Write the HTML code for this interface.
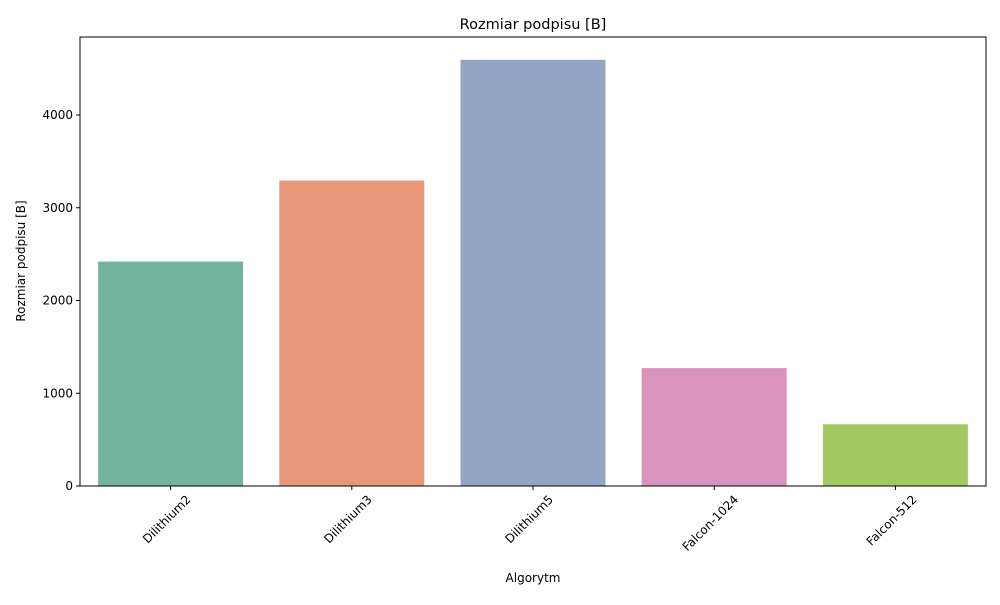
<!DOCTYPE html>
<html><head><meta charset="utf-8"><style>
body{margin:0;background:#fff;font-family:"Liberation Sans","DejaVu Sans",sans-serif;}
svg text{font-family:"DejaVu Sans","Liberation Sans",sans-serif;}
</style></head><body>
<svg id="chart" width="1000" height="600" viewBox="0 0 1000 600" xmlns="http://www.w3.org/2000/svg">
<text x="533" y="29" font-size="14.5" text-anchor="middle">Rozmiar podpisu [B]</text>
<text transform="translate(25,261) rotate(-90)" font-size="12" text-anchor="middle">Rozmiar podpisu [B]</text>
<text x="533" y="582" font-size="12" text-anchor="middle">Algorytm</text>
<g id="bars"></g><g id="axes"></g>
<rect x="80" y="37" width="906" height="449" fill="none" stroke="#000" stroke-width="1"/>
</svg>
<script>
const categories=["Dilithium2","Dilithium3","Dilithium5","Falcon-1024","Falcon-512"];
const values=[2420,3293,4595,1271,666];
const colors=["#73b49f","#e8977a","#94a4c3","#da93bd","#a2c862"];
const yTicks=[0,1000,2000,3000,4000];
const L=80,R=986,T=37,B=486;
const ys=v=>B-v*(371/4000);
const step=(R-L)/categories.length;
const xs=i=>L+step*(i+0.5);
const NS="http://www.w3.org/2000/svg";
const bars=document.getElementById('bars'),axes=document.getElementById('axes');
function mk(t,a,p){const e=document.createElementNS(NS,t);for(const k in a)e.setAttribute(k,a[k]);p.appendChild(e);return e;}
categories.forEach((c,i)=>{
 const w=step*0.8;
 const r=mk('rect',{x:xs(i)-w/2,y:ys(values[i]),width:w,height:B-ys(values[i]),fill:colors[i]},bars);
 
 
 mk('line',{x1:xs(i),x2:xs(i),y1:B,y2:B+4,stroke:'#000'},axes);
 const t=mk('text',{'font-size':12,'text-anchor':'middle'},axes);
 t.textContent=c;
 const len=t.getComputedTextLength()||c.length*7;
 const h=(len+12)*0.7071;
 t.setAttribute('transform',`translate(${xs(i)},${B+8+h/2}) rotate(-45) translate(0,4)`);
 t.setAttribute('transform',`translate(${xs(i)-1},${B+10+h/2}) rotate(-45)`);
 
 
});
yTicks.forEach(v=>{
 mk('line',{x1:L-4,x2:L,y1:ys(v),y2:ys(v),stroke:'#000'},axes);
 const t=mk('text',{x:L-7,y:ys(v)+4,'font-size':12,'text-anchor':'end'},axes);
 t.textContent=v;
 
 
});
</script>
</body></html>
